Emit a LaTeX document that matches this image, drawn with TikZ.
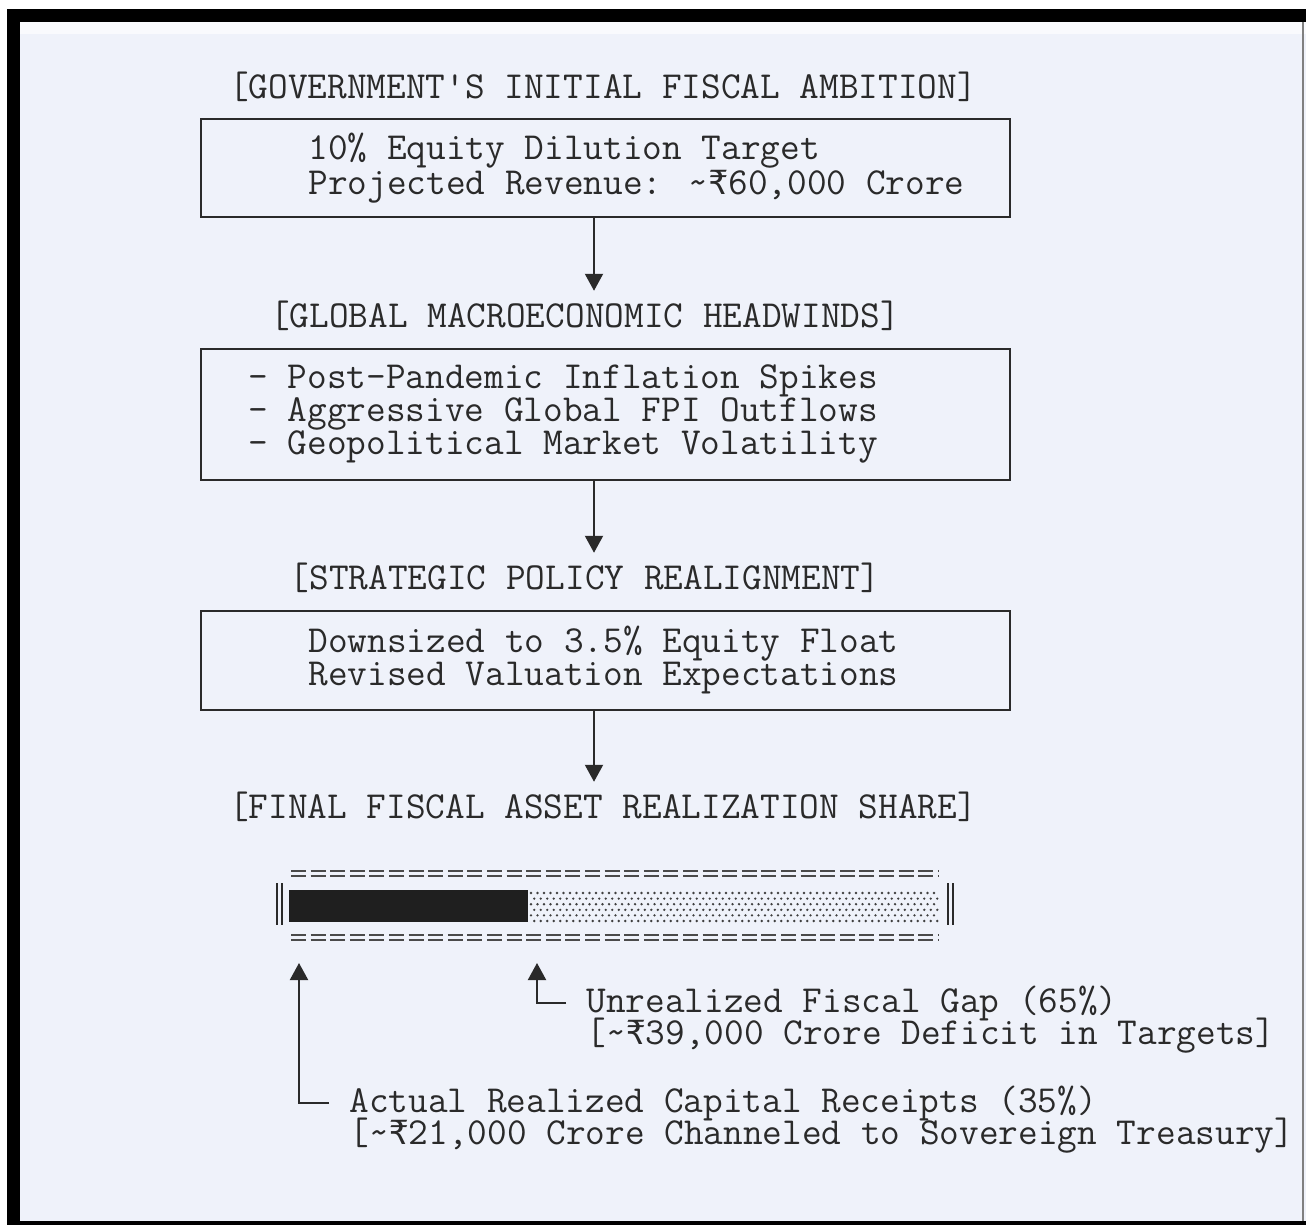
\documentclass[tikz,border=0pt]{standalone}
\usepackage{fontspec}
\newfontfamily\inrfont{DejaVu Sans Mono}[Scale=0.87]
\newcommand{\inr}{{\inrfont ₹}}
\usetikzlibrary{arrows.meta,positioning}
\definecolor{pagebg}{HTML}{EFF2FA}
\definecolor{ink}{HTML}{2A2A2A}

\begin{document}
\begin{tikzpicture}[x=0.5pt,y=-0.5pt,
  font=\ttfamily\fontsize{19.1}{16.4}\selectfont, text=ink,
  panel/.style={draw=ink,line width=1pt,minimum width=404.5pt,inner sep=0pt},
  lbl/.style={inner sep=0pt,align=left},
  flow/.style={draw=ink,line width=1pt,-{Triangle[length=8.5pt,width=9pt]}}]
  \useasboundingbox (0,0) rectangle (1306,1225);
  % frame
  \fill[black] (7,9) rectangle (1306,1225);
  \fill[pagebg] (20,22) rectangle (1306,1221);
  \fill[pagebg!40!white] (20,22) rectangle (1306,34);
  \draw[gray,line width=0.6pt] (1303,22) -- (1303,1221);

  % titles and panels
  \node[lbl] (title1) at (603,87) {[GOVERNMENT'S INITIAL FISCAL AMBITION]};
  \node[panel,minimum height=49pt] (box1) at (605.5,168) {};
  \node[lbl,anchor=west] (ambtxt) at (308,168)
    {10\% Equity Dilution Target\\Projected Revenue: \textasciitilde\inr60,000 Crore};

  \node[lbl] (title2) at (585,316) {[GLOBAL MACROECONOMIC HEADWINDS]};
  \node[panel,minimum height=65.5pt] (box2) at (605.5,414.5) {};
  \node[lbl,anchor=west] (windtxt) at (248,414)
    {- Post-Pandemic Inflation Spikes\\- Aggressive Global FPI Outflows\\- Geopolitical Market Volatility};

  \node[lbl] (title3) at (585,578) {[STRATEGIC POLICY REALIGNMENT]};
  \node[panel,minimum height=49.5pt] (box3) at (605.5,660.5) {};
  \node[lbl,anchor=west] (policytxt) at (308,660)
    {Downsized to 3.5\% Equity Float\\Revised Valuation Expectations};

  \node[lbl] (title4) at (603,807) {[FINAL FISCAL ASSET REALIZATION SHARE]};

  \coordinate (ax) at (594,0);
  \draw[flow] (box1.south -| ax) -- ([yshift=5pt]title2.north -| ax);
  \draw[flow] (box2.south -| ax) -- ([yshift=5pt]title3.north -| ax);
  \draw[flow] (box3.south -| ax) -- ([yshift=5pt]title4.north -| ax);

  % share bar
  \foreach \y in {871,876,935,940}
    \draw[ink!85,line width=0.7pt,dash pattern=on 7.5pt off 2.3pt] (291,\y) -- (938,\y);
  \foreach \x in {277,282,948,953}
    \draw[ink,line width=0.8pt] (\x,883) -- (\x,925);
  \fill[black!88] (289,890) rectangle (528,922);
  \foreach \r in {0,...,5} \foreach \c in {0,...,62}
    \fill[ink!90] ({531+6.5*\c+3.25*mod(\r,2)},{893+5.6*\r}) circle (0.65pt);

  % call-outs
  \node[lbl,anchor=west] (gaptxt) at (586,1003) {Unrealized Fiscal Gap (65\%)};
  \node[lbl,anchor=west] (gapsub) at (586,1036) {[\textasciitilde\inr39,000 Crore Deficit in Targets]};
  \node[lbl,anchor=west] (realtxt) at (349,1103) {Actual Realized Capital Receipts (35\%)};
  \node[lbl,anchor=west] (realsub) at (349,1136)
    {[\textasciitilde\inr21,000 Crore Channeled to Sovereign Treasury]};
  \coordinate (realtip) at (299,963);
  \coordinate (gaptip) at (537,963);
  \draw[flow] ([xshift=-10pt]realtxt.west) -| (realtip);
  \draw[flow] ([xshift=-10pt]gaptxt.west) -| (gaptip);
\end{tikzpicture}
\end{document}
